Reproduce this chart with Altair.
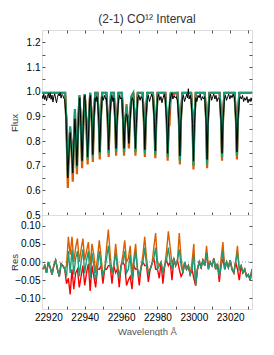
import altair as alt
import pandas as pd

# ---------------- data ----------------
title_text = "(2-1) CO\u00b9\u00b2 Interval"

# model spectra knots (wavelength, Angstrom)
model_wl = [
    22916.5, 22929.2, 22929.9, 22930.69, 22931.3, 22932.0, 22932.8, 22933.42, 22934.0, 22934.6,
    22935.2, 22935.71, 22936.4, 22937.1, 22937.9, 22938.55, 22939.2, 22940.0, 22940.9, 22941.6,
    22942.3, 22943.0, 22943.9, 22944.44, 22945.0, 22945.8, 22947.0, 22947.75, 22948.26, 22948.8,
    22949.6, 22951.9, 22952.65, 22953.17, 22953.7, 22954.5, 22956.0, 22956.75, 22957.26, 22957.8,
    22958.6, 22960.4, 22961.1, 22961.63, 22962.2, 22963.0, 22963.8, 22964.3, 22964.8, 22965.6,
    22966.7, 22967.4, 22967.9, 22968.4, 22969.2, 22971.8, 22972.55, 22973.08, 22973.6, 22974.4,
    22977.5, 22978.3, 22978.81, 22979.35, 22980.1, 22984.3, 22985.1, 22985.63, 22986.15, 22986.6,
    22987.3, 22991.0, 22991.8, 22992.34, 22992.9, 22993.7, 22998.5, 22999.3, 22999.81, 23000.35,
    23001.1, 23006.0, 23006.8, 23007.29, 23007.8, 23008.6, 23014.2, 23015.0, 23015.52, 23016.05,
    23016.8, 23022.4, 23023.2, 23023.71, 23024.25, 23025.0, 23032.0,
]
green_flux = [
    0.995, 0.995, 0.88, 0.66, 0.78, 0.86, 0.77, 0.67, 0.80, 0.93,
    0.81, 0.69, 0.86, 0.985, 0.87, 0.715, 0.87, 0.99, 0.88, 0.725,
    0.88, 0.995, 0.89, 0.735, 0.89, 0.995, 0.995, 0.89, 0.745, 0.89,
    0.995, 0.995, 0.89, 0.75, 0.89, 0.995, 0.995, 0.89, 0.755, 0.89,
    0.995, 0.995, 0.89, 0.755, 0.88, 0.94, 0.88, 0.80, 0.88, 0.98,
    0.995, 0.89, 0.755, 0.89, 0.995, 0.995, 0.89, 0.75, 0.89, 0.995,
    0.995, 0.89, 0.745, 0.89, 0.995, 0.995, 0.89, 0.735, 0.89, 0.93,
    0.995, 0.995, 0.89, 0.72, 0.89, 0.995, 0.995, 0.89, 0.70, 0.89,
    0.995, 0.995, 0.89, 0.705, 0.89, 0.995, 0.995, 0.89, 0.735, 0.89,
    0.995, 0.995, 0.89, 0.74, 0.89, 0.995, 0.995,
]
orange_flux = [
    0.995, 0.995, 0.87, 0.61, 0.76, 0.85, 0.75, 0.635, 0.78, 0.92,
    0.79, 0.665, 0.85, 0.985, 0.86, 0.69, 0.86, 0.99, 0.87, 0.705,
    0.87, 0.995, 0.88, 0.715, 0.88, 0.995, 0.995, 0.88, 0.725, 0.88,
    0.995, 0.995, 0.88, 0.735, 0.88, 0.995, 0.995, 0.88, 0.74, 0.88,
    0.995, 0.995, 0.88, 0.74, 0.87, 0.95, 0.86, 0.77, 0.87, 0.975,
    0.995, 0.88, 0.74, 0.88, 0.995, 0.995, 0.88, 0.735, 0.88, 0.995,
    0.995, 0.88, 0.73, 0.88, 0.995, 0.995, 0.88, 0.72, 0.87, 0.86,
    0.99, 0.995, 0.88, 0.705, 0.88, 0.995, 0.995, 0.88, 0.685, 0.88,
    0.995, 0.995, 0.88, 0.69, 0.88, 0.995, 0.995, 0.88, 0.72, 0.88,
    0.995, 0.995, 0.88, 0.725, 0.88, 0.995, 0.995,
]
red_flux = [
    0.995, 0.995, 0.89, 0.68, 0.78, 0.84, 0.79, 0.70, 0.81, 0.90,
    0.83, 0.72, 0.87, 0.975, 0.88, 0.735, 0.88, 0.985, 0.89, 0.745,
    0.89, 0.99, 0.90, 0.75, 0.90, 0.995, 0.995, 0.90, 0.76, 0.90,
    0.995, 0.995, 0.90, 0.765, 0.90, 0.995, 0.995, 0.90, 0.77, 0.90,
    0.995, 0.995, 0.90, 0.77, 0.89, 0.91, 0.90, 0.84, 0.90, 0.97,
    0.995, 0.90, 0.77, 0.90, 0.995, 0.995, 0.90, 0.765, 0.90, 0.995,
    0.995, 0.90, 0.76, 0.90, 0.995, 0.995, 0.90, 0.75, 0.90, 0.91,
    0.99, 0.995, 0.90, 0.735, 0.90, 0.995, 0.995, 0.90, 0.715, 0.90,
    0.995, 0.995, 0.90, 0.72, 0.90, 0.995, 0.995, 0.90, 0.75, 0.90,
    0.995, 0.995, 0.90, 0.755, 0.90, 0.995, 0.995,
]

# observed spectrum knots
obs_wl = [
    22916.5, 22917.0, 22917.5, 22918.0, 22918.5, 22919.0, 22919.5, 22920.0, 22920.5, 22921.0,
    22921.5, 22922.0, 22922.5, 22923.0, 22923.5, 22924.0, 22924.5, 22925.0, 22925.5, 22926.0,
    22926.5, 22927.0, 22927.5, 22928.0, 22928.5, 22929.0, 22929.7, 22930.69, 22931.3, 22932.0,
    22932.8, 22933.42, 22934.0, 22934.6, 22935.2, 22935.71, 22936.4, 22937.0, 22937.3, 22937.9,
    22938.55, 22939.2, 22939.7, 22940.1, 22940.9, 22941.6, 22942.3, 22942.8, 22943.1, 22943.9,
    22944.44, 22945.0, 22945.7, 22946.2, 22946.6, 22947.0, 22947.75, 22948.26, 22948.8, 22949.6,
    22950.2, 22950.8, 22951.4, 22951.9, 22952.65, 22953.17, 22953.7, 22954.5, 22955.0, 22955.5,
    22956.0, 22956.75, 22957.26, 22957.8, 22958.6, 22959.2, 22959.8, 22960.4, 22961.1, 22961.63,
    22962.2, 22962.9, 22963.4, 22963.8, 22964.3, 22964.8, 22965.6, 22966.2, 22966.7, 22967.4,
    22967.9, 22968.4, 22969.2, 22969.8, 22970.4, 22971.0, 22971.8, 22972.55, 22973.08, 22973.6,
    22974.4, 22975.0, 22975.6, 22976.2, 22976.8, 22977.5, 22978.3, 22978.81, 22979.35, 22980.1,
    22980.7, 22981.3, 22981.9, 22982.5, 22983.1, 22983.7, 22984.3, 22985.1, 22985.63, 22986.15,
    22986.6, 22987.3, 22987.9, 22988.5, 22989.1, 22989.7, 22990.3, 22991.0, 22991.8, 22992.34,
    22992.9, 22993.7, 22994.3, 22994.9, 22995.5, 22996.1, 22996.6, 22997.0, 22997.4, 22998.0,
    22998.5, 22999.3, 22999.81, 23000.35, 23001.1, 23001.7, 23002.3, 23002.9, 23003.5, 23004.1,
    23004.7, 23005.3, 23006.0, 23006.8, 23007.29, 23007.8, 23008.6, 23009.2, 23009.8, 23010.4,
    23011.0, 23011.6, 23012.2, 23012.8, 23013.4, 23014.2, 23015.0, 23015.52, 23016.05, 23016.8,
    23017.4, 23018.0, 23018.6, 23019.2, 23019.8, 23020.4, 23021.0, 23021.6, 23022.4, 23023.2,
    23023.71, 23024.25, 23025.0, 23025.6, 23026.2, 23026.8, 23027.4, 23028.0, 23028.6, 23029.2,
    23029.8, 23030.4, 23031.0, 23031.5, 23032.0,
]
obs_flux = [
    0.985, 0.972, 0.990, 0.968, 0.984, 0.963, 0.981, 0.992, 0.974, 0.995,
    0.969, 0.986, 0.958, 0.980, 0.991, 0.971, 0.955, 0.977, 0.990, 0.983,
    0.996, 0.974, 0.989, 0.984, 0.973, 0.968, 0.90, 0.65, 0.75, 0.834,
    0.76, 0.67, 0.79, 0.89, 0.80, 0.70, 0.85, 0.96, 0.975, 0.86,
    0.72, 0.86, 0.975, 0.985, 0.87, 0.735, 0.87, 0.97, 0.985, 0.88,
    0.745, 0.88, 0.975, 0.96, 0.98, 0.97, 0.88, 0.755, 0.88, 0.98,
    0.965, 0.985, 0.97, 0.975, 0.88, 0.765, 0.88, 0.97, 0.985, 0.96,
    0.975, 0.88, 0.77, 0.88, 0.965, 0.985, 0.97, 0.975, 0.88, 0.77,
    0.87, 0.91, 0.90, 0.86, 0.79, 0.86, 0.96, 0.975, 0.965, 0.87,
    0.77, 0.87, 0.975, 0.985, 0.965, 0.98, 0.97, 0.88, 0.765, 0.88,
    0.97, 0.985, 0.96, 0.975, 0.99, 0.97, 0.88, 0.76, 0.88, 0.975,
    0.99, 0.965, 0.98, 0.955, 0.975, 0.99, 0.97, 0.87, 0.75, 0.88,
    0.95, 0.98, 0.995, 0.97, 0.985, 0.975, 0.98, 0.965, 0.88, 0.74,
    0.88, 0.97, 0.985, 0.96, 0.975, 0.99, 0.975, 1.012, 0.97, 0.985,
    0.97, 0.87, 0.72, 0.87, 0.975, 0.96, 0.985, 0.975, 0.99, 0.965,
    0.98, 0.97, 0.98, 0.87, 0.725, 0.87, 0.975, 0.99, 0.965, 0.98,
    0.99, 0.97, 0.985, 0.96, 0.975, 0.97, 0.88, 0.75, 0.88, 0.97,
    0.985, 0.965, 0.98, 0.99, 0.97, 0.985, 0.975, 0.99, 0.975, 0.88,
    0.755, 0.88, 0.965, 0.98, 0.97, 0.985, 0.96, 0.975, 0.965, 0.98,
    0.955, 0.97, 0.96, 0.975, 0.96,
]

# residuals on a 1 Angstrom grid, 22917 ... 23032
res_wl = list(range(22917, 23033))
res_green = [
    -0.020, -0.010, -0.030, 0.000, -0.015, -0.035, -0.010, 0.005, -0.020, -0.040,
    -0.005, -0.010, -0.020, -0.040, 0.030, -0.030, 0.035, -0.035, 0.010, 0.030,
    -0.040, 0.000, 0.035, -0.030, 0.005, 0.030, -0.045, 0.025, -0.010, -0.050,
    -0.020, 0.030, -0.010, -0.040, -0.020, 0.010, 0.045, -0.010, -0.030, -0.010,
    0.025, -0.020, -0.045, -0.010, 0.000, 0.030, -0.030, -0.020, 0.020, -0.050,
    -0.010, 0.030, -0.020, -0.040, -0.015, 0.000, 0.040, -0.010, -0.030, -0.020,
    -0.005, 0.010, 0.040, -0.020, -0.010, 0.000, -0.030, -0.010, 0.005, 0.040,
    0.000, -0.020, 0.010, -0.010, 0.005, 0.035, -0.010, -0.030, 0.000, -0.020,
    -0.010, -0.035, -0.020, 0.020, -0.065, -0.020, 0.000, -0.015, 0.005, -0.010,
    0.025, -0.020, 0.000, -0.010, 0.010, -0.020, -0.005, -0.040, -0.010, 0.030,
    -0.020, 0.000, -0.015, 0.005, -0.020, -0.030, 0.000, 0.025, -0.020, -0.010,
    -0.030, -0.020, -0.040, -0.035, -0.050, -0.020,
]
res_orange = [
    -0.020, -0.010, -0.030, 0.000, -0.015, -0.035, -0.010, 0.005, -0.020, -0.040,
    -0.005, -0.010, -0.020, -0.010, 0.070, 0.020, 0.070, 0.000, 0.040, 0.065,
    0.000, 0.035, 0.065, 0.005, 0.030, 0.055, -0.010, 0.050, 0.020, -0.030,
    0.010, 0.060, 0.015, -0.040, -0.020, 0.040, 0.090, 0.020, -0.030, -0.010,
    0.050, 0.000, -0.045, -0.010, 0.020, 0.060, 0.000, 0.010, 0.045, -0.030,
    0.010, 0.050, -0.020, -0.040, -0.015, 0.020, 0.070, 0.010, -0.030, -0.020,
    -0.005, 0.040, 0.080, 0.000, -0.010, 0.000, -0.030, -0.010, 0.030, 0.085,
    0.040, -0.005, 0.010, -0.010, 0.005, 0.080, 0.010, -0.030, 0.000, -0.020,
    -0.010, -0.035, 0.000, 0.050, -0.065, -0.020, 0.000, -0.015, 0.005, -0.010,
    0.045, -0.010, 0.000, -0.010, 0.010, -0.020, -0.005, -0.040, 0.010, 0.055,
    -0.020, 0.000, -0.015, 0.005, -0.020, -0.030, 0.000, 0.045, -0.020, -0.010,
    -0.030, -0.020, -0.040, -0.035, -0.050, -0.020,
]
res_red = [
    -0.020, -0.010, -0.030, 0.000, -0.015, -0.035, -0.010, 0.005, -0.020, -0.040,
    -0.005, -0.010, -0.020, -0.060, -0.045, -0.090, -0.020, -0.075, -0.030, -0.020,
    -0.070, -0.040, -0.010, -0.065, -0.030, -0.005, -0.080, -0.010, -0.040, -0.070,
    -0.020, -0.020, -0.010, -0.060, -0.020, -0.020, -0.010, -0.010, -0.060, -0.010,
    -0.030, -0.020, -0.070, -0.010, 0.000, -0.010, -0.065, -0.050, -0.040, -0.075,
    -0.010, -0.020, -0.020, -0.065, -0.015, 0.000, -0.010, -0.010, -0.055, -0.020,
    -0.005, 0.010, -0.020, -0.020, -0.045, 0.000, -0.060, -0.010, 0.005, -0.010,
    0.000, -0.050, 0.010, -0.010, 0.005, -0.020, -0.040, -0.030, 0.000, -0.020,
    -0.010, -0.035, -0.020, -0.045, -0.065, -0.020, 0.000, -0.015, 0.005, -0.010,
    0.025, -0.020, 0.000, -0.010, 0.010, -0.020, -0.005, -0.055, -0.010, 0.010,
    -0.020, 0.000, -0.015, 0.005, -0.020, -0.030, 0.000, -0.020, -0.050, -0.010,
    -0.030, -0.020, -0.040, -0.035, -0.050, -0.020,
]

x_domain = [22916.5, 23032.0]
x_ticks = [22920, 22930, 22940, 22950, 22960, 22970, 22980, 22990, 23000, 23010, 23020, 23030]
flux_domain = [0.5, 1.25]
flux_ticks = [0.5, 0.55, 0.6, 0.65, 0.7, 0.75, 0.8, 0.85, 0.9, 0.95, 1.0, 1.05, 1.1, 1.15, 1.2]
res_domain = [-0.13, 0.13]
res_ticks = [-0.1, -0.05, 0.0, 0.05, 0.1]

# ---------------- styling ----------------
C_GREEN = "#1b9e77"
C_ORANGE = "#d95f02"
C_RED = "#ff0000"
FONT = "Liberation Sans"
W = 210
H_TOP = 185
H_BOT = 94

model_df = pd.DataFrame({"wl": model_wl, "green": green_flux, "orange": orange_flux, "red": red_flux})
obs_df = pd.DataFrame({"wl": obs_wl, "flux": obs_flux})
res_df = pd.DataFrame({"wl": res_wl, "green": res_green, "orange": res_orange, "red": res_red})

xs = alt.Scale(domain=x_domain, nice=False, zero=False)
ys_top = alt.Scale(domain=flux_domain, nice=False, zero=False)
ys_bot = alt.Scale(domain=res_domain, nice=False, zero=False)

tick_common = dict(offset=-3, tickSize=3, domain=False, grid=False, tickColor="#555", tickWidth=1)
title_common = dict(titleFont=FONT, titleFontSize=9.5, titleFontWeight="normal", titleColor="#333333")

# ---- top panel ----
ax_x_top_bottom = alt.Axis(values=x_ticks, labels=False, title=None, **tick_common)
ax_y_flux = alt.Axis(values=flux_ticks, title="Flux", labelPadding=2,
                     labelExpr="abs(datum.value*10 - round(datum.value*10)) < 0.001 ? format(datum.value, '.1f') : ''",
                     titleX=-26, titlePadding=0, **tick_common, **title_common)

base_top = alt.Chart(model_df)
l_orange = base_top.mark_line(color=C_ORANGE, strokeWidth=2.2, clip=True).encode(
    x=alt.X("wl:Q", scale=xs, axis=ax_x_top_bottom),
    y=alt.Y("orange:Q", scale=ys_top, axis=ax_y_flux))
l_red = base_top.mark_line(color=C_RED, strokeWidth=2.0, clip=True).encode(
    x=alt.X("wl:Q", scale=xs, axis=None), y=alt.Y("red:Q", scale=ys_top, axis=None))
l_green = base_top.mark_line(color=C_GREEN, strokeWidth=2.2, clip=True).encode(
    x=alt.X("wl:Q", scale=xs, axis=None), y=alt.Y("green:Q", scale=ys_top, axis=None))
l_obs = alt.Chart(obs_df).mark_line(color="#000000", strokeWidth=1.0, clip=True).encode(
    x=alt.X("wl:Q", scale=xs, axis=None), y=alt.Y("flux:Q", scale=ys_top, axis=None))
top_frame = base_top.mark_line(opacity=0).encode(
    x=alt.X("wl:Q", scale=xs, axis=alt.Axis(orient="top", values=x_ticks, labels=False, title=None, **tick_common)),
    y=alt.Y("green:Q", scale=ys_top, axis=alt.Axis(orient="right", values=flux_ticks, labels=False, title=None, **tick_common)))

top = alt.layer(l_orange, l_red, l_green, l_obs, top_frame).resolve_axis(
    x="independent", y="independent").properties(
    width=W, height=H_TOP,
    title=alt.TitleParams(title_text, fontSize=12, font=FONT, fontWeight="normal", color="#333333", offset=4))

# ---- bottom panel ----
ax_x_bot = alt.Axis(values=x_ticks, title="Wavelength \u00c5", labelPadding=3,
                    labelExpr="datum.value % 20 == 0 ? format(datum.value, 'd') : ''",
                    titlePadding=4, **tick_common, **dict(title_common, titleColor="#555555"))
ax_y_res = alt.Axis(values=res_ticks, title="Res", format=".2f", labelPadding=2,
                    titleX=-26, titlePadding=0, **tick_common, **title_common)

base_bot = alt.Chart(res_df)
r_orange = base_bot.mark_line(color=C_ORANGE, strokeWidth=1.4, clip=True).encode(
    x=alt.X("wl:Q", scale=xs, axis=ax_x_bot), y=alt.Y("orange:Q", scale=ys_bot, axis=ax_y_res))
r_red = base_bot.mark_line(color=C_RED, strokeWidth=1.4, clip=True).encode(
    x=alt.X("wl:Q", scale=xs, axis=None), y=alt.Y("red:Q", scale=ys_bot, axis=None))
r_green = base_bot.mark_line(color=C_GREEN, strokeWidth=1.4, clip=True).encode(
    x=alt.X("wl:Q", scale=xs, axis=None), y=alt.Y("green:Q", scale=ys_bot, axis=None))
zero_df = pd.DataFrame({"y": [0.0]})
r_zero = alt.Chart(zero_df).mark_rule(color="#999999", strokeDash=[1, 2], strokeWidth=1).encode(
    y=alt.Y("y:Q", scale=ys_bot, axis=None))
bot_frame = base_bot.mark_line(opacity=0).encode(
    x=alt.X("wl:Q", scale=xs, axis=None),
    y=alt.Y("green:Q", scale=ys_bot, axis=alt.Axis(orient="right", values=res_ticks, labels=False, title=None, **tick_common)))

bottom = alt.layer(r_orange, r_red, r_green, r_zero, bot_frame).resolve_axis(
    x="independent", y="independent").properties(width=W, height=H_BOT)

chart = alt.vconcat(top, bottom, spacing=0, bounds="flush").properties(
    padding={"left": 0, "top": 4, "right": 0, "bottom": 0},
).configure_view(stroke="#222222", strokeWidth=1).configure_axis(
    labelFont=FONT, labelFontSize=8.5, labelColor="#222222",
).configure(background="white")

chart.save("out.html", embed_options={"renderer": "svg", "actions": False})
